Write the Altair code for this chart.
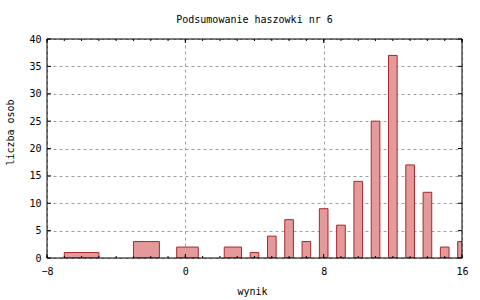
import altair as alt
import pandas as pd

# Histogram data (bar extents in "wynik" units and counts)
wynik_od = [-7, -3, -0.5, 2.25, 3.75, 4.75, 5.75, 6.75, 7.75, 8.75, 9.75, 10.75, 11.75, 12.75, 13.75, 14.75, 15.75]
wynik_do = [-5, -1.5, 0.75, 3.25, 4.25, 5.25, 6.25, 7.25, 8.25, 9.25, 10.25, 11.25, 12.25, 13.25, 14.25, 15.25, 16.25]
liczba_osob = [1, 3, 2, 2, 1, 4, 7, 3, 9, 6, 14, 25, 37, 17, 12, 2, 3]

# Tick values
x_major = [-8, 0, 8, 16]
x_minor = list(range(-8, 17))
y_major = [0, 5, 10, 15, 20, 25, 30, 35, 40]

W, H = 415, 219
FONT = "DejaVu Sans Mono"

df = pd.DataFrame({"od": wynik_od, "do": wynik_do, "liczba": liczba_osob})
xminor_df = pd.DataFrame({"od": x_minor})
xmajor_df = pd.DataFrame({"od": x_major})
ymajor_df = pd.DataFrame({"liczba": y_major})
frame_df = pd.DataFrame({"k": [0]})

xscale = alt.Scale(domain=[-8, 16], nice=False, zero=False)
yscale = alt.Scale(domain=[0, 40], nice=False, zero=True)

xaxis = alt.Axis(values=x_major, title="wynik", grid=True, ticks=False,
                 domain=False, labelPadding=8, labelFlush=False,
                 titleY=33, titleX=205, titleBaseline="middle")
yaxis = alt.Axis(values=y_major, title="liczba osob", grid=True, ticks=False,
                 domain=False, labelPadding=6, labelFlush=False,
                 titleX=-37, titleY=93, titleAngle=270,
                 titleAlign="center", titleBaseline="middle")

X = alt.X("od:Q", scale=xscale, axis=xaxis)
Y = alt.Y("liczba:Q", scale=yscale, axis=yaxis)

bars = alt.Chart(df).mark_rect(
    fill="#e49a9a", stroke="#a82828", strokeWidth=1, clip=True
).encode(x=X, x2="do:Q", y=Y, y2=alt.datum(0))

tick_col = "black"
y_left = alt.Chart(ymajor_df).mark_rule(color=tick_col).encode(
    y=Y, x=alt.value(0), x2=alt.value(4))
y_right = alt.Chart(ymajor_df).mark_rule(color=tick_col).encode(
    y=Y, x=alt.value(W - 4), x2=alt.value(W))
x_top_minor = alt.Chart(xminor_df).mark_rule(color=tick_col).encode(
    x=X, y=alt.value(0), y2=alt.value(2))
x_bot_minor = alt.Chart(xminor_df).mark_rule(color=tick_col).encode(
    x=X, y=alt.value(H - 2), y2=alt.value(H))
x_top_major = alt.Chart(xmajor_df).mark_rule(color=tick_col).encode(
    x=X, y=alt.value(0), y2=alt.value(4))
x_bot_major = alt.Chart(xmajor_df).mark_rule(color=tick_col).encode(
    x=X, y=alt.value(H - 4), y2=alt.value(H))

frame = alt.Chart(frame_df).mark_rect(
    fill="transparent", stroke="black", strokeWidth=1
).encode(x=alt.value(0), x2=alt.value(W), y=alt.value(0), y2=alt.value(H))

chart = alt.layer(
    bars, y_left, y_right, x_top_minor, x_bot_minor, x_top_major, x_bot_major, frame
).properties(
    width=W, height=H,
    title=alt.Title("Podsumowanie haszowki nr 6", font=FONT, fontSize=10,
                    fontWeight="normal", anchor="middle", offset=1,
                    baseline="alphabetic", color="black"),
    autosize=alt.AutoSizeParams(type="none"),
    padding={"left": 47, "top": 39, "right": 18, "bottom": 42},
).configure_view(
    stroke=None
).configure_axis(
    gridColor="#a0a0a0", gridDash=[3, 3], gridWidth=1, gridOpacity=1,
    labelFont=FONT, labelFontSize=10, labelColor="black",
    titleFont=FONT, titleFontSize=10, titleFontWeight="normal", titleColor="black",
)

chart.save("out.html", embed_options={"renderer": "svg", "actions": False})
